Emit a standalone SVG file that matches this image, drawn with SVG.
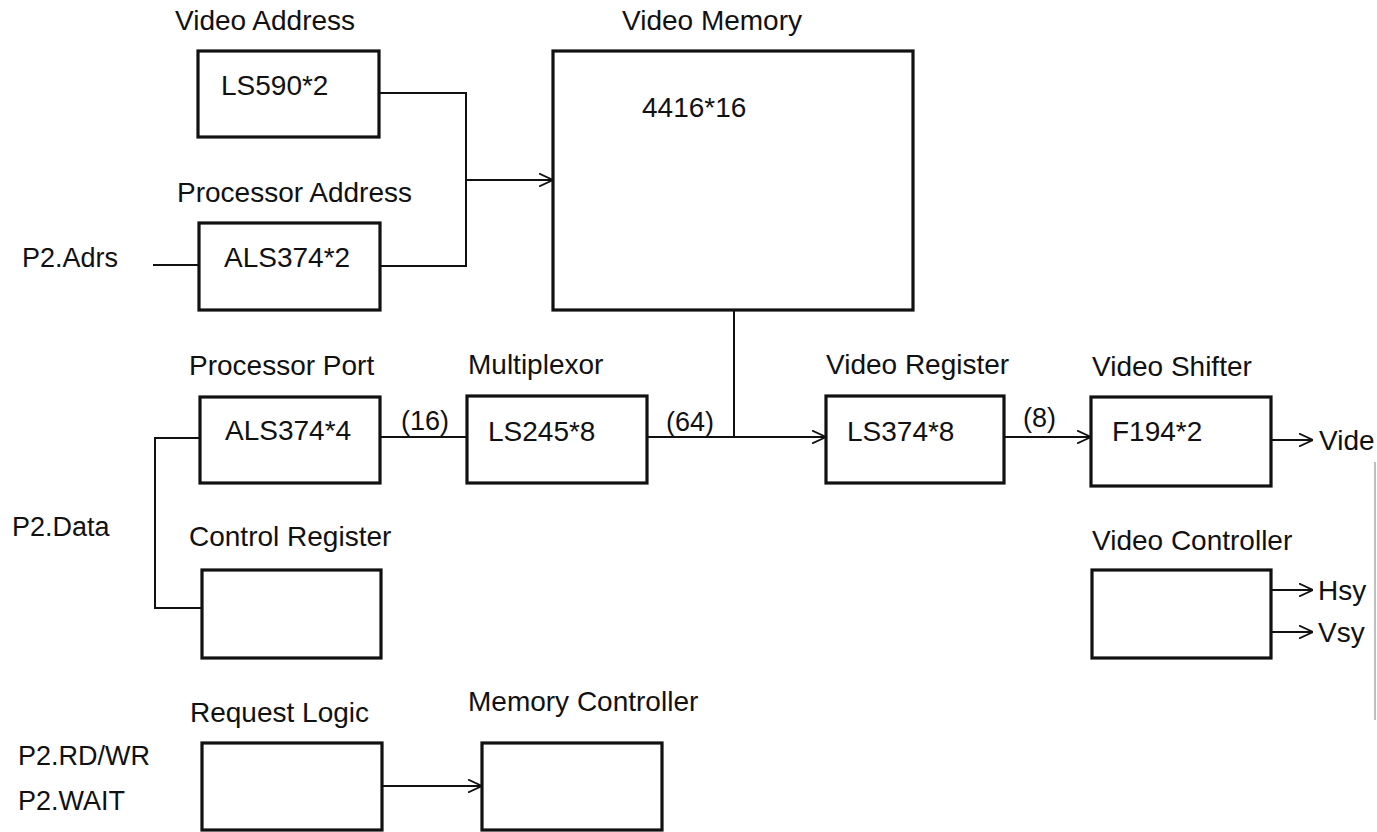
<svg xmlns="http://www.w3.org/2000/svg" width="1377" height="832" viewBox="0 0 1377 832">
<style>
.box{fill:none;stroke:#111;stroke-width:3.2}
.t{font-family:"Liberation Sans",Arial,sans-serif;font-size:28px;fill:#111}
.s{font-family:"Liberation Sans",Arial,sans-serif;font-size:27px;fill:#111}
.c{fill:none;stroke:#111;stroke-width:2}
.a{marker-end:url(#arr)}
</style>
<defs>
<marker id="arr" viewBox="0 0 14 14" refX="14" refY="7" markerWidth="14" markerHeight="14" markerUnits="userSpaceOnUse" orient="auto">
<path d="M0,0.5 L14,7 L0,13.5" fill="none" stroke="#111" stroke-width="1.8"/>
</marker>
</defs>
<rect width="1377" height="832" fill="#fff"/>

<g id="video-address">
<text class="t" x="175" y="30">Video Address</text>
<rect class="box" x="198" y="51" width="181" height="86"/>
<text class="t" x="221" y="95">LS590*2</text>
</g>
<g id="processor-address">
<text class="t" x="177" y="202">Processor Address</text>
<rect class="box" x="199" y="223" width="181" height="87"/>
<text class="t" x="224" y="267">ALS374*2</text>
</g>
<g id="video-memory">
<text class="t" x="622" y="30">Video Memory</text>
<rect class="box" x="553" y="51" width="360" height="259"/>
<text class="t" x="642" y="117">4416*16</text>
</g>
<g id="processor-port">
<text class="t" x="189" y="375">Processor Port</text>
<rect class="box" x="200" y="397" width="180" height="86"/>
<text class="t" x="225" y="440">ALS374*4</text>
</g>
<g id="multiplexor">
<text class="t" x="468" y="374">Multiplexor</text>
<rect class="box" x="467" y="396" width="180" height="87"/>
<text class="t" x="488" y="441">LS245*8</text>
</g>
<g id="video-register">
<text class="t" x="826" y="374">Video Register</text>
<rect class="box" x="826" y="396" width="178" height="87"/>
<text class="t" x="847" y="441">LS374*8</text>
</g>
<g id="video-shifter">
<text class="t" x="1092" y="376">Video Shifter</text>
<rect class="box" x="1091" y="397" width="180" height="89"/>
<text class="t" x="1112" y="441">F194*2</text>
</g>
<g id="control-register">
<text class="t" x="189" y="546">Control Register</text>
<rect class="box" x="202" y="570" width="179" height="88"/>
</g>
<g id="video-controller">
<text class="t" x="1092" y="550">Video Controller</text>
<rect class="box" x="1092" y="570" width="179" height="88"/>
</g>
<g id="request-logic">
<text class="t" x="190" y="722">Request Logic</text>
<rect class="box" x="202" y="743" width="180" height="87"/>
</g>
<g id="memory-controller">
<text class="t" x="468" y="711">Memory Controller</text>
<rect class="box" x="482" y="743" width="180" height="87"/>
</g>

<g id="signals">
<text class="s" x="22" y="267">P2.Adrs</text>
<text class="s" x="12" y="536">P2.Data</text>
<text class="s" x="18" y="765">P2.RD/WR</text>
<text class="s" x="18" y="810">P2.WAIT</text>
<text class="t" x="1319" y="450">Vide</text>
<text class="t" x="1318" y="600">Hsy</text>
<text class="t" x="1318" y="642">Vsy</text>
</g>

<g id="connectors">
<polyline class="c" points="379,93 466,93 466,266 380,266"/>
<line class="c a" x1="466" y1="180" x2="553" y2="180"/>
<line class="c" x1="153" y1="265" x2="199" y2="265"/>
<polyline class="c" points="200,438 155,438 155,608 202,608"/>
<line class="c" x1="380" y1="437" x2="467" y2="437"/>
<text class="s" x="401" y="430">(16)</text>
<line class="c a" x1="647" y1="437" x2="826" y2="437"/>
<line class="c" x1="734" y1="310" x2="734" y2="437"/>
<text class="s" x="666" y="431">(64)</text>
<line class="c a" x1="1004" y1="437" x2="1091" y2="437"/>
<text class="s" x="1023" y="427">(8)</text>
<line class="c a" x1="1271" y1="440" x2="1313" y2="440"/>
<line class="c a" x1="1271" y1="590" x2="1313" y2="590"/>
<line class="c a" x1="1271" y1="632" x2="1313" y2="632"/>
<line class="c a" x1="382" y1="786" x2="482" y2="786"/>
</g>
<line x1="1375" y1="462" x2="1375" y2="720" stroke="#aaa" stroke-width="1.5"/>
</svg>
